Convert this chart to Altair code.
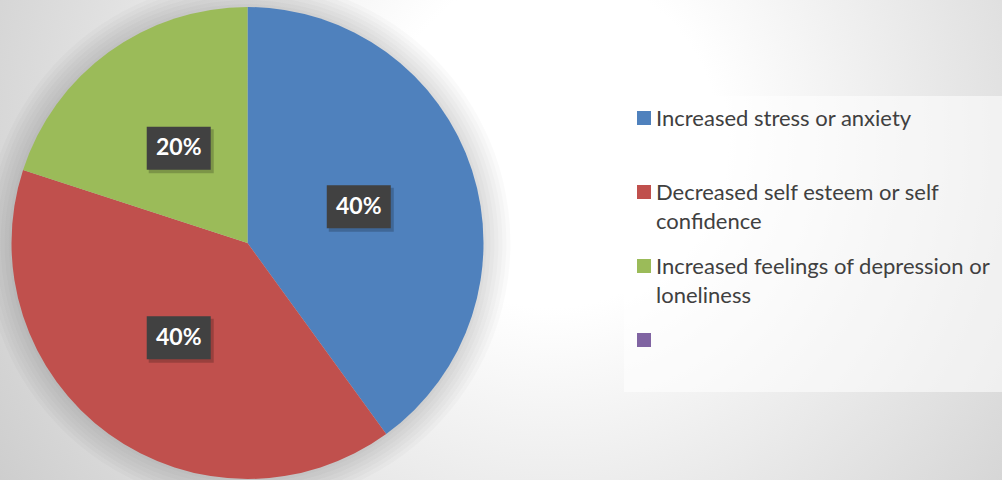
import altair as alt
import pandas as pd

# ---- data ----
categories = ["Increased stress or anxiety",
              "Decreased self esteem or self\nconfidence",
              "Increased feelings of depression or\nloneliness",
              ""]
values = [40, 40, 20, 0]
colors = ["#4F81BD", "#C0504D", "#9BBB59", "#8064A2"]
order = [0, 1, 2, 3]

df = pd.DataFrame({"cat": categories, "value": values, "order": order, "color": colors})

W, H = 1002, 480
CX, CY, R = 247.5, 243, 236
LABEL_R = 117
FONT = "Lato"

# background radial gradient
bg = alt.Chart(pd.DataFrame({"a": [0]})).mark_rect(
    color=alt.Gradient(
        gradient="radial",
        stops=[alt.GradientStop(color="#ffffff", offset=0),
               alt.GradientStop(color="#ffffff", offset=0.22),
               alt.GradientStop(color="#c2c2c2", offset=1)],
        x1=0.55, y1=0.4, x2=0.55, y2=0.4, r1=0, r2=0.76)
).encode(x=alt.value(0), x2=alt.value(W), y=alt.value(0), y2=alt.value(H))

# pie halo shadow
halo_layers = []
for k in range(1, 8):
    halo_layers.append(
        alt.Chart(pd.DataFrame({"a": [0]})).mark_arc(
            theta=0, theta2=6.2832, outerRadius=R + 4 * k - 1, innerRadius=0,
            color="#000000", opacity=0.02
        ).encode(x=alt.value(CX), y=alt.value(CY))
    )

pie = alt.Chart(df).mark_arc(outerRadius=R, stroke=None).encode(
    theta=alt.Theta("value:Q", stack=True),
    order=alt.Order("order:Q"),
    color=alt.Color("cat:N", scale=alt.Scale(domain=categories, range=colors), legend=None),
    x=alt.value(CX), y=alt.value(CY),
)

lab = alt.Chart(df).transform_filter("datum.value > 0").transform_window(
    cum="sum(value)", sort=[{"field": "order"}]
).transform_joinaggregate(total="sum(value)").transform_calculate(
    pct="datum.value / datum.total",
    mid="(datum.cum - datum.value / 2) / datum.total * 2 * PI",
).transform_calculate(
    bx=f"{CX} + {LABEL_R} * sin(datum.mid)",
    by=f"{CY} - {LABEL_R} * cos(datum.mid)",
).transform_calculate(
    x0="datum.bx - 32", x1="datum.bx + 32",
    y0="datum.by - 21.5", y1="datum.by + 21.5",
    sx0="datum.bx - 30", sx1="datum.bx + 35",
    sy0="datum.by - 19", sy1="datum.by + 25",
)

shadow = lab.mark_rect(color="#000000", opacity=0.2).encode(
    x=alt.X("sx0:Q", scale=None), x2="sx1:Q",
    y=alt.Y("sy0:Q", scale=None), y2="sy1:Q")
box = lab.mark_rect(color="#414141").encode(
    x=alt.X("x0:Q", scale=None), x2="x1:Q",
    y=alt.Y("y0:Q", scale=None), y2="y1:Q")
txt = lab.mark_text(font=FONT, fontSize=23, fontWeight="bold", color="#ffffff",
                    align="center", baseline="middle").encode(
    x=alt.X("bx:Q", scale=None), y=alt.Y("by:Q", scale=None),
    text=alt.Text("pct:Q", format=".0%"))

# legend
legbox = alt.Chart(pd.DataFrame({"a": [0]})).mark_rect(color="#ffffff", opacity=0.55).encode(
    x=alt.value(624), x2=alt.value(W), y=alt.value(96), y2=alt.value(392))

leg = alt.Chart(df).transform_calculate(
    ly="118 + 74 * datum.order", ty="125.5 + 74 * datum.order")
leg_sq = leg.mark_square(size=196, opacity=1).encode(
    x=alt.value(644), y=alt.Y("ly:Q", scale=None),
    color=alt.Color("cat:N", scale=alt.Scale(domain=categories, range=colors), legend=None))
leg_txt = leg.mark_text(font=FONT, fontSize=22, color="#404040", align="left",
                        baseline="alphabetic", lineBreak="\n", lineHeight=29).encode(
    x=alt.value(656), y=alt.Y("ty:Q", scale=None), text="cat:N")

chart = alt.layer(bg, *halo_layers, pie, shadow, box, txt, legbox, leg_sq, leg_txt).properties(
    width=W, height=H, autosize=alt.AutoSizeParams(type="none"), padding=0
).configure_view(stroke=None)

chart.save("out.html", embed_options={"renderer": "svg", "actions": False})
